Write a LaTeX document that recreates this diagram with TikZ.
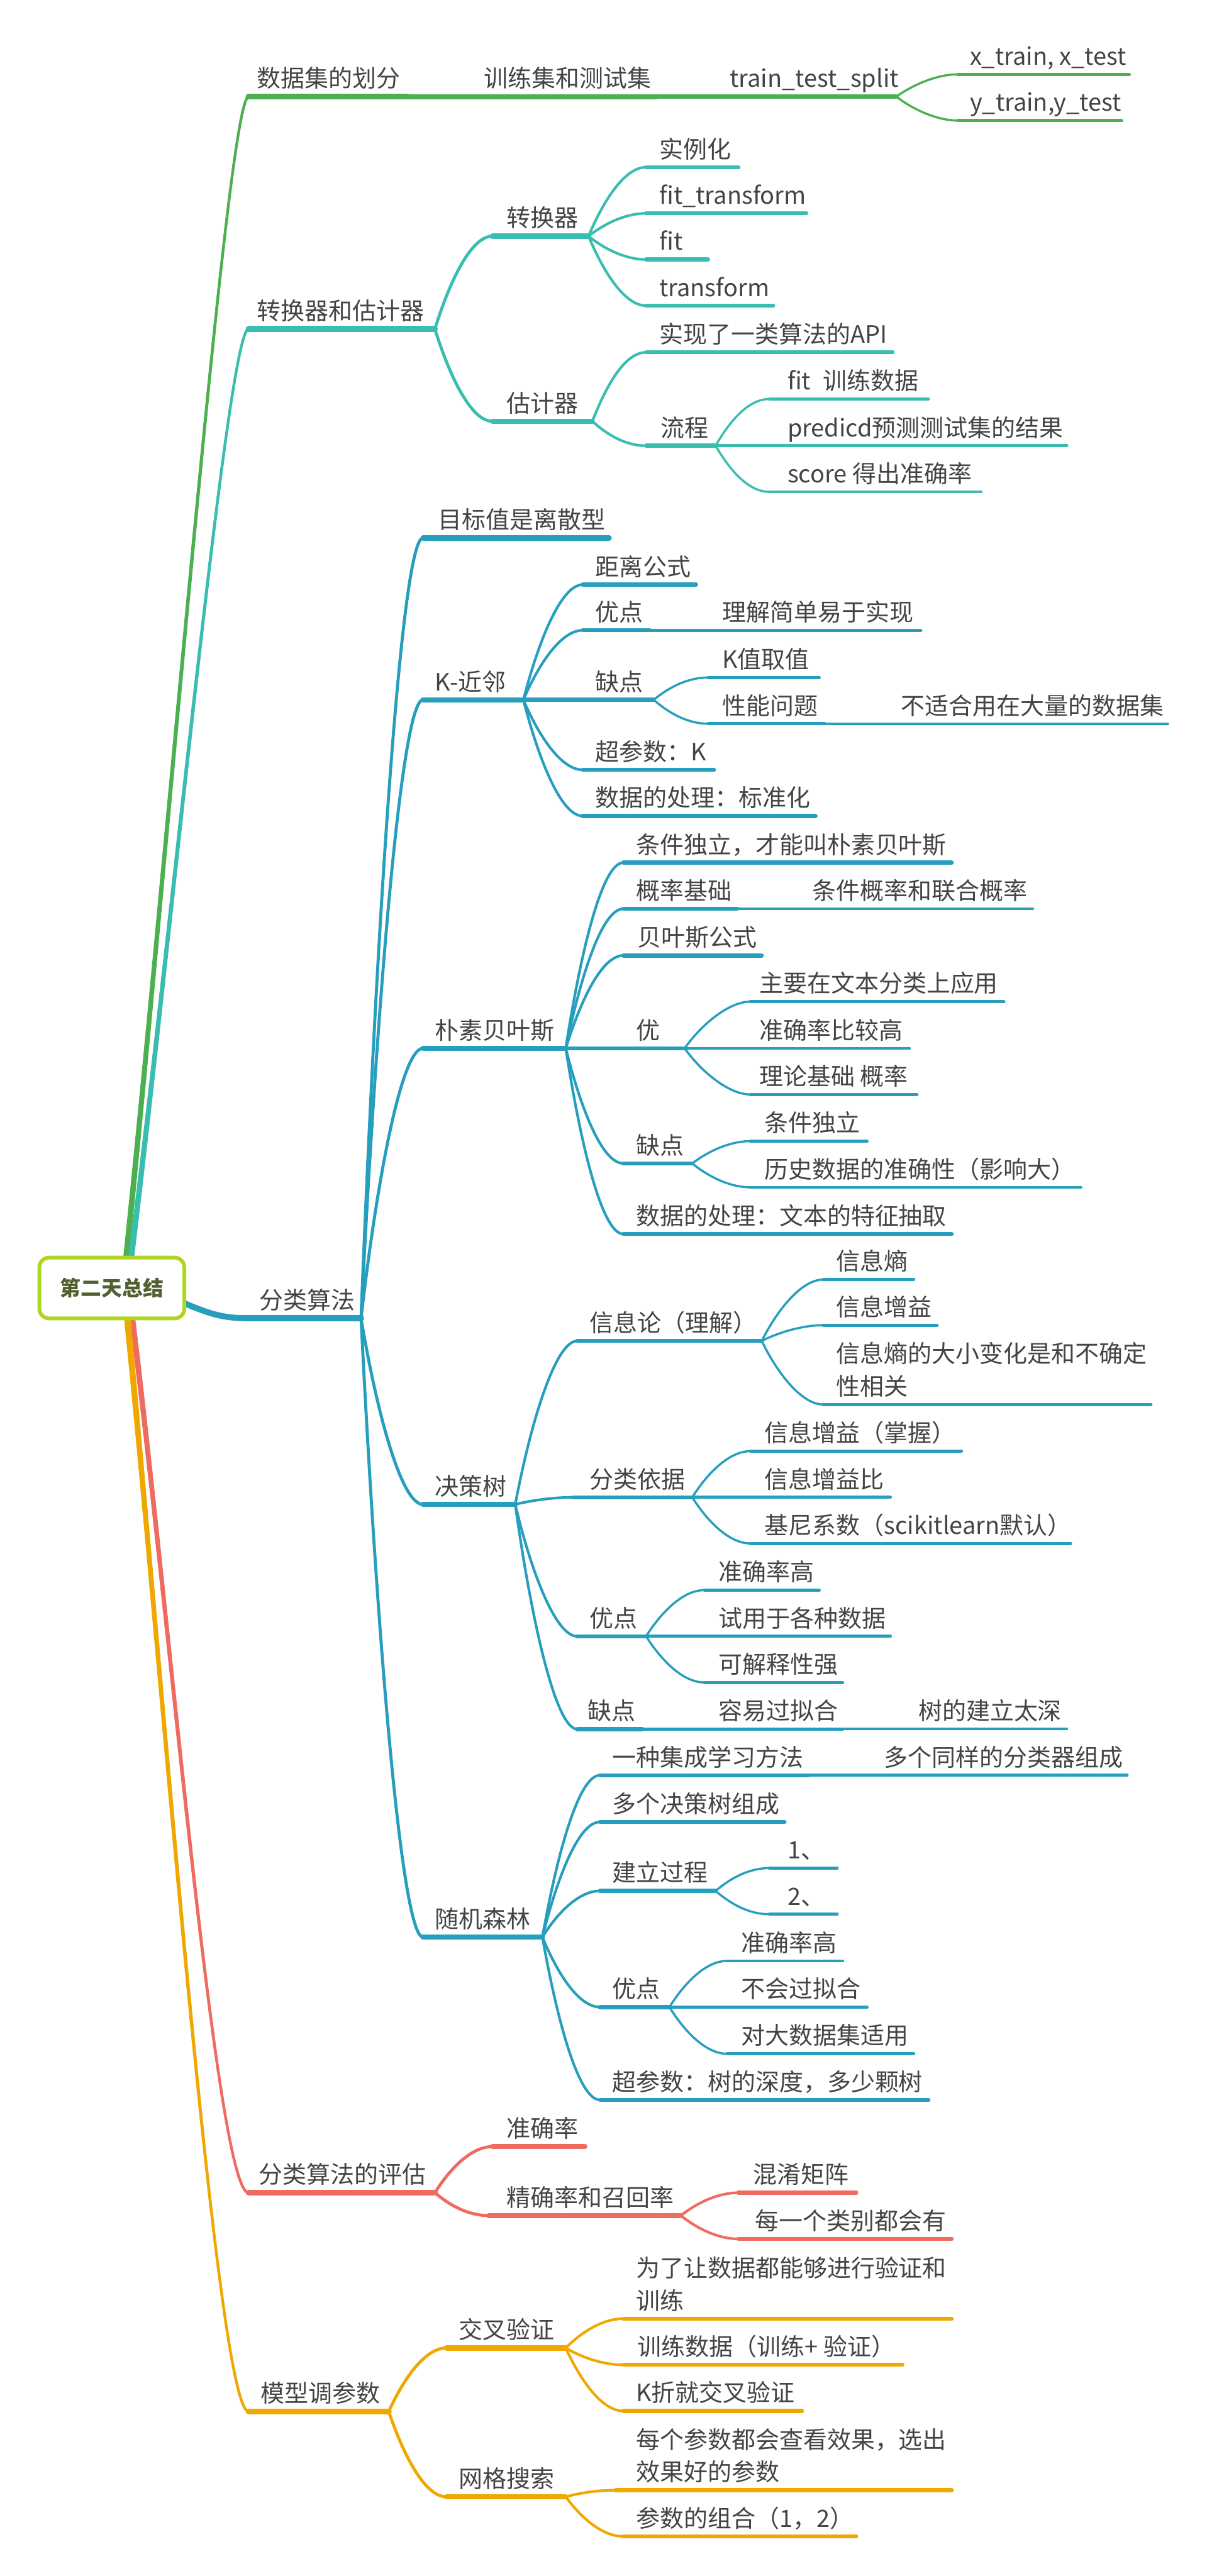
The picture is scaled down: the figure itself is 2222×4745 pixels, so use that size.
\documentclass[tikz,border=0pt]{standalone}
\usepackage{fontspec}
\setmainfont{Noto Sans CJK SC}
\usetikzlibrary{calc,backgrounds}
\definecolor{gc}{RGB}{76,175,80}
\definecolor{tc}{RGB}{56,189,176}
\definecolor{bc}{RGB}{38,158,189}
\definecolor{rc}{RGB}{239,106,95}
\definecolor{oc}{RGB}{240,168,0}
\definecolor{rootc}{RGB}{174,214,34}
\definecolor{roottxt}{RGB}{80,96,48}
\definecolor{txtc}{RGB}{68,68,68}
\tikzset{
 txt/.style={anchor=base west, inner sep=0pt, text=txtc, font=\fontsize{22pt}{30pt}\selectfont},
 lvA/.style={line width=5.5pt},
 lvB/.style={line width=4.75pt},
 lvC/.style={line width=3.75pt},
 lvD/.style={line width=2.75pt},
 lvE/.style={line width=2.25pt},
 cA/.style={line width=2.8pt},
 cB/.style={line width=2.4pt},
 cC/.style={line width=2pt},
 trunk/.style={line width=2.5pt},
}
\newcommand\tp[8]{%
 \coordinate (#1-s) at (#2,#4);
 \coordinate (#1-e) at (#3,#4);
 \draw[#6, draw=#7, line cap=round] (#1-s) -- (#1-e);
 \node[txt] (#1) at (#5,#4-17) {#8};
}
\newcommand\lk[4]{%
 \draw[#1, draw=#2, line cap=round] let \p1=(#3), \p2=(#4) in
 (\p1) .. controls ({\x1+0.25*(\x2-\x1)},{\y1+0.5*(\y2-\y1)}) and ({\x2-min(0.5*(\x2-\x1),20pt)},{\y2}) .. (\p2);
}
\newcommand\twol[2]{\begin{tabular}[b]{@{}l@{}}#1\\#2\end{tabular}}
\begin{document}
\begin{tikzpicture}[x=0.5pt,y=-0.5pt]
\useasboundingbox (0,0) rectangle (2222,4745);
% root
\node[draw=rootc, line width=3.5pt, rounded corners=9pt, fill=white, minimum width=133.5pt, minimum height=56pt, inner sep=0pt, text=roottxt, font=\fontsize{19pt}{22pt}\selectfont\bfseries] (root) at (206,2372.5) {第二天总结};
\coordinate (rg) at ([xshift=13pt,yshift=-4pt]root.north);
\coordinate (rt) at ([xshift=17.5pt,yshift=-4pt]root.north);
\coordinate (rb) at ([xshift=-4pt,yshift=-13pt]root.east);
\coordinate (rr) at ([xshift=18.5pt,yshift=4pt]root.south);
\coordinate (ro) at ([xshift=14pt,yshift=4pt]root.south);
% green
\tp{d1}{458}{751}{178}{473}{lvA}{gc}{数据集的划分}
\tp{d2}{751}{1208}{178}{891}{lvB}{gc}{训练集和测试集}
\tp{d3}{1208}{1651}{178}{1344}{lvC}{gc}{train\_test\_split}
\tp{d4}{1764}{2080}{137}{1786}{lvD}{gc}{x\_train, x\_test}
\tp{d5}{1764}{2066}{222}{1786}{lvD}{gc}{y\_train,y\_test}
% teal
\tp{t1}{458}{801}{606}{473}{lvA}{tc}{转换器和估计器}
\tp{t2}{907}{1084}{435}{933}{lvB}{tc}{转换器}
\tp{t3}{1190}{1360}{308}{1214}{lvC}{tc}{实例化}
\tp{t4}{1190}{1485}{393}{1214}{lvC}{tc}{fit\_transform}
\tp{t5}{1190}{1304}{478}{1214}{lvC}{tc}{fit}
\tp{t6}{1190}{1424}{563}{1214}{lvC}{tc}{transform}
\tp{t7}{907}{1091}{776}{933}{lvB}{tc}{估计器}
\tp{t8}{1190}{1644}{649}{1214}{lvC}{tc}{实现了一类算法的API}
\tp{t9}{1190}{1318}{821}{1217}{lvC}{tc}{流程}
\tp{t10}{1417}{1710}{735}{1450}{lvD}{tc}{fit\hspace{11pt}训练数据}
\tp{t11}{1318}{1965}{821}{1450}{lvD}{tc}{predicd预测测试集的结果}
\tp{t12}{1417}{1807}{906}{1450}{lvD}{tc}{score 得出准确率}
% blue
\tp{b0}{455}{665}{2428}{477}{lvA}{bc}{分类算法}
\tp{b1}{779}{1122}{991}{806}{lvB}{bc}{目标值是离散型}
\tp{b2}{779}{964}{1289}{801}{lvB}{bc}{K-近邻}
\tp{b2a}{1073}{1282}{1077}{1096}{lvC}{bc}{距离公式}
\tp{b2b}{1073}{1197}{1161}{1096}{lvC}{bc}{优点}
\tp{b2b1}{1197}{1696}{1161}{1330}{lvD}{bc}{理解简单易于实现}
\tp{b2c}{964}{1204}{1289}{1096}{lvC}{bc}{缺点}
\tp{b2c1}{1304}{1509}{1248}{1330}{lvD}{bc}{K值取值}
\tp{b2c2}{1304}{1519}{1333}{1330}{lvD}{bc}{性能问题}
\tp{b2c2a}{1519}{2151}{1333}{1659}{lvE}{bc}{不适合用在大量的数据集}
\tp{b2d}{1073}{1315}{1418}{1096}{lvC}{bc}{超参数：K}
\tp{b2e}{1073}{1502}{1503}{1096}{lvC}{bc}{数据的处理：标准化}
\tp{b3}{779}{1042}{1931}{801}{lvB}{bc}{朴素贝叶斯}
\tp{b3a}{1148}{1753}{1589}{1171}{lvC}{bc}{条件独立，才能叫朴素贝叶斯}
\tp{b3b}{1148}{1358}{1674}{1171}{lvC}{bc}{概率基础}
\tp{b3b1}{1358}{1902}{1674}{1496}{lvD}{bc}{条件概率和联合概率}
\tp{b3c}{1148}{1403}{1760}{1174}{lvC}{bc}{贝叶斯公式}
\tp{b3d}{1042}{1261}{1931}{1171}{lvC}{bc}{优}
\tp{b3d1}{1382}{1849}{1845}{1398}{lvD}{bc}{主要在文本分类上应用}
\tp{b3d2}{1261}{1675}{1931}{1398}{lvD}{bc}{准确率比较高}
\tp{b3d3}{1382}{1689}{2016}{1398}{lvD}{bc}{理论基础 概率}
\tp{b3e}{1148}{1275}{2143}{1171}{lvC}{bc}{缺点}
\tp{b3e1}{1382}{1597}{2102}{1408}{lvD}{bc}{条件独立}
\tp{b3e2}{1382}{1991}{2187}{1408}{lvD}{bc}{历史数据的准确性（影响大）}
\tp{b3f}{1148}{1753}{2273}{1171}{lvC}{bc}{数据的处理：文本的特征抽取}
\tp{b4}{779}{949}{2771}{801}{lvB}{bc}{决策树}
\tp{b4a}{1063}{1403}{2470}{1086}{lvC}{bc}{信息论（理解）}
\tp{b4a1}{1516}{1683}{2357}{1540}{lvD}{bc}{信息熵}
\tp{b4a2}{1516}{1726}{2441}{1540}{lvD}{bc}{信息增益}
\tp{b4a3}{1516}{2120}{2587}{1540}{lvD}{bc}{\twol{信息熵的大小变化是和不确定}{性相关}}
\tp{b4b}{1056}{1275}{2758}{1086}{lvC}{bc}{分类依据}
\tp{b4b1}{1382}{1771}{2673}{1408}{lvD}{bc}{信息增益（掌握）}
\tp{b4b2}{1275}{1640}{2758}{1408}{lvD}{bc}{信息增益比}
\tp{b4b3}{1382}{1972}{2843}{1408}{lvD}{bc}{基尼系数（scikitlearn默认）}
\tp{b4c}{1063}{1190}{3014}{1086}{lvC}{bc}{优点}
\tp{b4c1}{1297}{1509}{2929}{1323}{lvD}{bc}{准确率高}
\tp{b4c2}{1190}{1640}{3014}{1323}{lvD}{bc}{试用于各种数据}
\tp{b4c3}{1297}{1552}{3099}{1323}{lvD}{bc}{可解释性强}
\tp{b4d}{1063}{1183}{3185}{1082}{lvC}{bc}{缺点}
\tp{b4d1}{1183}{1552}{3185}{1323}{lvD}{bc}{容易过拟合}
\tp{b4d1a}{1552}{1965}{3185}{1691}{lvE}{bc}{树的建立太深}
\tp{b5}{779}{999}{3568}{801}{lvB}{bc}{随机森林}
\tp{b5a}{1105}{1488}{3270}{1127}{lvC}{bc}{一种集成学习方法}
\tp{b5a1}{1488}{2076}{3270}{1628}{lvD}{bc}{多个同样的分类器组成}
\tp{b5b}{1105}{1445}{3356}{1127}{lvC}{bc}{多个决策树组成}
\tp{b5c}{1105}{1318}{3483}{1127}{lvC}{bc}{建立过程}
\tp{b5c1}{1417}{1542}{3441}{1450}{lvD}{bc}{1、}
\tp{b5c2}{1417}{1542}{3526}{1450}{lvD}{bc}{2、}
\tp{b5d}{1105}{1233}{3697}{1127}{lvC}{bc}{优点}
\tp{b5d1}{1339}{1552}{3612}{1365}{lvD}{bc}{准确率高}
\tp{b5d2}{1233}{1597}{3697}{1365}{lvD}{bc}{不会过拟合}
\tp{b5d3}{1339}{1683}{3783}{1365}{lvD}{bc}{对大数据集适用}
\tp{b5e}{1105}{1710}{3868}{1127}{lvC}{bc}{超参数：树的深度，多少颗树}
% red
\tp{r0}{458}{801}{4039}{476}{lvA}{rc}{分类算法的评估}
\tp{r1}{907}{1077}{3954}{933}{lvB}{rc}{准确率}
\tp{r2}{900}{1254}{4081}{933}{lvB}{rc}{精确率和召回率}
\tp{r2a}{1360}{1577}{4039}{1387}{lvC}{rc}{混淆矩阵}
\tp{r2b}{1360}{1753}{4124}{1390}{lvC}{rc}{每一个类别都会有}
% orange
\tp{o0}{458}{716}{4442}{480}{lvA}{oc}{模型调参数}
\tp{o1}{822}{1042}{4325}{845}{lvB}{oc}{交叉验证}
\tp{o1a}{1148}{1753}{4271}{1171}{lvC}{oc}{\twol{为了让数据都能够进行验证和}{训练}}
\tp{o1b}{1148}{1662}{4356}{1174}{lvC}{oc}{训练数据（训练+ 验证）}
\tp{o1c}{1148}{1477}{4441}{1171}{lvC}{oc}{K折就交叉验证}
\tp{o2}{822}{1042}{4599}{845}{lvB}{oc}{网格搜索}
\tp{o2a}{1134}{1753}{4587}{1171}{lvC}{oc}{\twol{每个参数都会查看效果，选出}{效果好的参数}}
\tp{o2b}{1148}{1577}{4672}{1171}{lvC}{oc}{参数的组合（1，2）}
\begin{scope}[on background layer]
\fill[white] (0,0) rectangle (2222,4745);
% trunks: constant stroke plus a tapered fill near the root
\draw[trunk, draw=gc] (rg) .. controls (315,1500) and (420,178) .. (d1-s);
\fill[gc] ([xshift=-2.75pt]rg) .. controls (312,1500) and (417,175) .. ([yshift=1.5pt]d1-s) -- ([yshift=-1.5pt]d1-s) .. controls (423,181) and (318,1500) .. ([xshift=2.75pt]rg) -- cycle;
\draw[trunk, draw=tc] (rt) .. controls (318,1700) and (420,606) .. (t1-s);
\fill[tc] ([xshift=-2.75pt]rt) .. controls (315,1700) and (417,603) .. ([yshift=1.5pt]t1-s) -- ([yshift=-1.5pt]t1-s) .. controls (423,609) and (321,1700) .. ([xshift=2.75pt]rt) -- cycle;
\draw[line width=5.5pt, draw=bc] (rb) .. controls (385,2420) and (410,2428) .. (b0-s);
\draw[trunk, draw=rc] (rr) .. controls (315,3000) and (400,4039) .. (r0-s);
\fill[rc] ([xshift=-2.75pt]rr) .. controls (312,3000) and (397,4042) .. ([yshift=-1.5pt]r0-s) -- ([yshift=1.5pt]r0-s) .. controls (403,4036) and (318,3000) .. ([xshift=2.75pt]rr) -- cycle;
\draw[trunk, draw=oc] (ro) .. controls (300,3100) and (400,4442) .. (o0-s);
\fill[oc] ([xshift=-3pt]ro) .. controls (297,3100) and (397,4445) .. ([yshift=-1.5pt]o0-s) -- ([yshift=1.5pt]o0-s) .. controls (403,4439) and (303,3100) .. ([xshift=3pt]ro) -- cycle;
% green links
\lk{cC}{gc}{d3-e}{d4-s}
\lk{cC}{gc}{d3-e}{d5-s}
% teal links
\lk{cA}{tc}{t1-e}{t2-s}
\lk{cA}{tc}{t1-e}{t7-s}
\lk{cB}{tc}{t2-e}{t3-s}
\lk{cB}{tc}{t2-e}{t4-s}
\lk{cB}{tc}{t2-e}{t5-s}
\lk{cB}{tc}{t2-e}{t6-s}
\lk{cB}{tc}{t7-e}{t8-s}
\lk{cB}{tc}{t7-e}{t9-s}
\lk{cC}{tc}{t9-e}{t10-s}
\lk{cC}{tc}{t9-e}{t12-s}
% blue links
\lk{cA}{bc}{b0-e}{b1-s}
\lk{cA}{bc}{b0-e}{b2-s}
\lk{cA}{bc}{b0-e}{b3-s}
\lk{cA}{bc}{b0-e}{b4-s}
\lk{cA}{bc}{b0-e}{b5-s}
\lk{cB}{bc}{b2-e}{b2a-s}
\lk{cB}{bc}{b2-e}{b2b-s}
\lk{cB}{bc}{b2-e}{b2d-s}
\lk{cB}{bc}{b2-e}{b2e-s}
\lk{cC}{bc}{b2c-e}{b2c1-s}
\lk{cC}{bc}{b2c-e}{b2c2-s}
\lk{cB}{bc}{b3-e}{b3a-s}
\lk{cB}{bc}{b3-e}{b3b-s}
\lk{cB}{bc}{b3-e}{b3c-s}
\lk{cB}{bc}{b3-e}{b3e-s}
\lk{cB}{bc}{b3-e}{b3f-s}
\lk{cC}{bc}{b3d-e}{b3d1-s}
\lk{cC}{bc}{b3d-e}{b3d3-s}
\lk{cC}{bc}{b3e-e}{b3e1-s}
\lk{cC}{bc}{b3e-e}{b3e2-s}
\lk{cB}{bc}{b4-e}{b4a-s}
\lk{cB}{bc}{b4-e}{b4b-s}
\lk{cB}{bc}{b4-e}{b4c-s}
\lk{cB}{bc}{b4-e}{b4d-s}
\lk{cC}{bc}{b4a-e}{b4a1-s}
\lk{cC}{bc}{b4a-e}{b4a2-s}
\lk{cC}{bc}{b4a-e}{b4a3-s}
\lk{cC}{bc}{b4b-e}{b4b1-s}
\lk{cC}{bc}{b4b-e}{b4b3-s}
\lk{cC}{bc}{b4c-e}{b4c1-s}
\lk{cC}{bc}{b4c-e}{b4c3-s}
\lk{cB}{bc}{b5-e}{b5a-s}
\lk{cB}{bc}{b5-e}{b5b-s}
\lk{cB}{bc}{b5-e}{b5c-s}
\lk{cB}{bc}{b5-e}{b5d-s}
\lk{cB}{bc}{b5-e}{b5e-s}
\lk{cC}{bc}{b5c-e}{b5c1-s}
\lk{cC}{bc}{b5c-e}{b5c2-s}
\lk{cC}{bc}{b5d-e}{b5d1-s}
\lk{cC}{bc}{b5d-e}{b5d3-s}
% red links
\lk{cA}{rc}{r0-e}{r1-s}
\lk{cA}{rc}{r0-e}{r2-s}
\lk{cB}{rc}{r2-e}{r2a-s}
\lk{cB}{rc}{r2-e}{r2b-s}
% orange links
\lk{cA}{oc}{o0-e}{o1-s}
\lk{cA}{oc}{o0-e}{o2-s}
\lk{cB}{oc}{o1-e}{o1a-s}
\lk{cB}{oc}{o1-e}{o1b-s}
\lk{cB}{oc}{o1-e}{o1c-s}
\lk{cB}{oc}{o2-e}{o2a-s}
\lk{cB}{oc}{o2-e}{o2b-s}
\end{scope}
\end{tikzpicture}
\end{document}
